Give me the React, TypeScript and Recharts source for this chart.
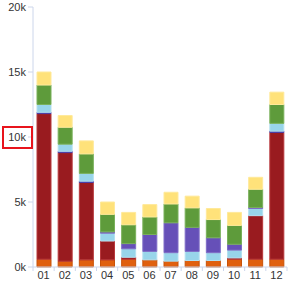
import { BarChart, Bar, XAxis, YAxis } from 'recharts'

const months = ['01', '02', '03', '04', '05', '06', '07', '08', '09', '10', '11', '12']
const orange = [600, 450, 550, 550, 600, 550, 450, 500, 500, 600, 600, 600]
const red = [11200, 8350, 5950, 1450, 150, 0, 0, 0, 0, 100, 3350, 9750]
const indigo = [100, 100, 100, 0, 0, 0, 0, 0, 0, 0, 0, 100]
const lightBlue = [600, 550, 600, 600, 650, 650, 650, 700, 600, 600, 550, 600]
const purple = [0, 0, 0, 100, 400, 1300, 2300, 1850, 1150, 450, 80, 0]
const green = [1500, 1300, 1500, 1350, 1450, 1350, 1450, 1500, 1400, 1450, 1400, 1450]
const yellow = [1000, 900, 1000, 950, 950, 950, 900, 900, 850, 1000, 920, 950]
const yTicks = [0, 5000, 10000, 15000, 20000]

const data = months.map((m, i) => ({
  month: m,
  orange: orange[i],
  red: red[i],
  indigo: indigo[i],
  lightBlue: lightBlue[i],
  purple: purple[i],
  green: green[i],
  yellow: yellow[i],
}))

const series = [
  { key: 'orange', fill: '#e0600e', stroke: '#c85208' },
  { key: 'red', fill: '#991b1f', stroke: '#b8383c' },
  { key: 'indigo', fill: '#4a3fa8', stroke: '#4a3fa8' },
  { key: 'lightBlue', fill: '#98d5ea', stroke: '#b3e0f0' },
  { key: 'purple', fill: '#6650b8', stroke: '#7e6cc6' },
  { key: 'green', fill: '#5e9b3b', stroke: '#79b05a' },
  { key: 'yellow', fill: '#ffe27a', stroke: '#ffe99a' },
]

const font = '"Liberation Sans", Arial, sans-serif'
const axisColor = '#ccd6eb'

function YTick(props: any) {
  const { x, y, payload } = props
  return (
    <g>
      {payload.value === 10000 && (
        <rect x={3} y={y - 10} width={29} height={21} fill="none" stroke="#e8141c" strokeWidth={2} />
      )}
      <text x={x} y={y} dy={4} textAnchor="end" fill="#333" fontSize={11} fontFamily={font}>
        {payload.value / 1000 + 'k'}
      </text>
    </g>
  )
}

function XTick(props: any) {
  const { x, y, payload, width, index, visibleTicksCount } = props
  const half = width / visibleTicksCount / 2
  return (
    <g>
      <line x1={x - half} x2={x - half} y1={y} y2={y + 4} stroke={axisColor} />
      {index === visibleTicksCount - 1 && (
        <line x1={x + half} x2={x + half} y1={y} y2={y + 4} stroke={axisColor} />
      )}
      <text x={x} y={y} dy={12} textAnchor="middle" fill="#333" fontSize={11} fontFamily={font}>
        {payload.value}
      </text>
    </g>
  )
}

export default function App() {
  return (
    <div style={{ position: 'absolute', left: 0, top: 0, background: '#fff' }}>
      <BarChart
        width={290}
        height={283}
        data={data}
        margin={{ top: 7, right: 3, left: 0, bottom: 0 }}
        barSize={14}
      >
        <XAxis
          dataKey="month"
          height={16}
          stroke={axisColor}
          tickLine={false}
          tickSize={0}
          tickMargin={0}
          tick={<XTick />}
          interval={0}
        />
        <YAxis
          width={33}
          domain={[0, 20000]}
          ticks={yTicks}
          stroke={axisColor}
          tickSize={5}
          tickMargin={2}
          tick={<YTick />}
          interval={0}
        />
        {series.map((s) => (
          <Bar
            key={s.key}
            dataKey={s.key}
            stackId="a"
            fill={s.fill}
            stroke={s.stroke}
            strokeWidth={1}
            isAnimationActive={false}
          />
        ))}
      </BarChart>
    </div>
  )
}
